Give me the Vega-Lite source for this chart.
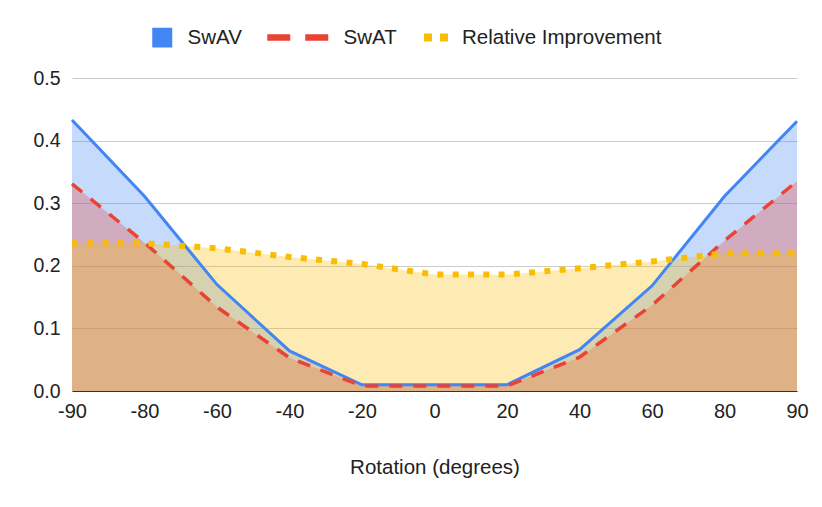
{
  "$schema": "https://vega.github.io/schema/vega-lite/v6.json",
  "width": 725,
  "height": 313,
  "autosize": {"type": "none"},
  "padding": {"left": 72, "top": 78, "right": 25, "bottom": 116},
  "background": "white",
  "view": {"stroke": null},
  "data": {
    "values": [
      {"rotation": -90, "SwAV": 0.433, "SwAT": 0.331, "RI": 0.236},
      {"rotation": -80, "SwAV": 0.311, "SwAT": 0.237, "RI": 0.236},
      {"rotation": -60, "SwAV": 0.170, "SwAT": 0.134, "RI": 0.228},
      {"rotation": -40, "SwAV": 0.064, "SwAT": 0.053, "RI": 0.214},
      {"rotation": -20, "SwAV": 0.010, "SwAT": 0.008, "RI": 0.203},
      {"rotation": 0, "SwAV": 0.010, "SwAT": 0.008, "RI": 0.186},
      {"rotation": 20, "SwAV": 0.010, "SwAT": 0.008, "RI": 0.186},
      {"rotation": 40, "SwAV": 0.066, "SwAT": 0.054, "RI": 0.196},
      {"rotation": 60, "SwAV": 0.168, "SwAT": 0.137, "RI": 0.207},
      {"rotation": 80, "SwAV": 0.311, "SwAT": 0.240, "RI": 0.220},
      {"rotation": 90, "SwAV": 0.431, "SwAT": 0.335, "RI": 0.220}
    ]
  },
  "encoding": {
    "x": {
      "field": "rotation",
      "type": "ordinal",
      "title": "Rotation (degrees)",
      "scale": {"type": "point", "padding": 0},
      "axis": {
        "labelAngle": 0,
        "labelFontSize": 20,
        "labelColor": "#222222",
        "labelPadding": 10,
        "ticks": false,
        "tickSize": 0,
        "domainColor": "#333333",
        "grid": false,
        "titleFontSize": 20.5,
        "titleFontWeight": "normal",
        "titleColor": "#222222",
        "titlePadding": 36,
        "zindex": 1
      }
    }
  },
  "layer": [
    {
      "mark": {"type": "area", "opacity": 0.3},
      "encoding": {
        "y": {
          "field": "SwAV",
          "type": "quantitative",
          "title": null,
          "scale": {"domain": [0, 0.5], "nice": false},
          "axis": {
            "values": [0, 0.1, 0.2, 0.3, 0.4, 0.5],
            "format": ".1f",
            "domain": false,
            "ticks": false,
            "labelPadding": 12,
            "labelFontSize": 19.5,
            "labelColor": "#222222",
            "gridColor": "#cccccc"
          }
        },
        "fill": {
          "datum": "SwAV",
          "type": "nominal",
          "scale": {"range": ["#4285F4"]},
          "legend": {
            "title": null,
            "orient": "none",
            "legendX": 80,
            "legendY": -50.5,
            "symbolType": "square",
            "symbolSize": 400,
            "symbolOpacity": 1,
            "symbolStrokeWidth": 0,
            "labelFontSize": 20.5,
            "labelColor": "#222222",
            "labelOffset": 15,
            "clipHeight": 20,
            "encode": {"symbols": {"update": {"opacity": {"value": 1}, "fillOpacity": {"value": 1}}}}
          }
        }
      }
    },
    {
      "mark": {"type": "area", "opacity": 0.3, "color": "#EA4335"},
      "encoding": {"y": {"field": "SwAT", "type": "quantitative", "title": null}}
    },
    {
      "mark": {"type": "area", "opacity": 0.3, "color": "#FBBC04"},
      "encoding": {"y": {"field": "RI", "type": "quantitative", "title": null}}
    },
    {
      "mark": {"type": "line", "color": "#4285F4", "strokeWidth": 3},
      "encoding": {"y": {"field": "SwAV", "type": "quantitative", "title": null}}
    },
    {
      "mark": {"type": "line", "color": "#EA4335", "strokeWidth": 3.5, "strokeDash": [13, 11]},
      "encoding": {
        "y": {"field": "SwAT", "type": "quantitative", "title": null},
        "opacity": {
          "datum": "SwAT",
          "type": "ordinal",
          "scale": {"range": [1, 1]},
          "legend": {
            "title": null,
            "orient": "none",
            "legendX": 191.75,
            "legendY": -50.5,
            "symbolType": "stroke",
            "symbolSize": 3721,
            "symbolStrokeWidth": 6.5,
            "symbolStrokeColor": "#EA4335",
            "symbolDash": [23, 15],
            "labelFontSize": 20.5,
            "labelColor": "#222222",
            "labelOffset": 11.75,
            "clipHeight": 20,
            "encode": {"symbols": {"update": {"stroke": {"value": "#EA4335"}, "strokeDash": {"value": [23, 15]}, "opacity": {"value": 1}}}}
          }
        }
      }
    },
    {
      "mark": {"type": "line", "strokeWidth": 6, "strokeDash": [6, 9.3]},
      "encoding": {
        "y": {"field": "RI", "type": "quantitative", "title": null},
        "stroke": {
          "datum": "Relative Improvement",
          "type": "nominal",
          "scale": {"range": ["#FBBC04"]},
          "legend": {
            "title": null,
            "orient": "none",
            "legendX": 348,
            "legendY": -50.5,
            "symbolType": "stroke",
            "symbolSize": 576,
            "symbolStrokeWidth": 8,
            "labelFontSize": 20.5,
            "labelColor": "#222222",
            "labelOffset": 10,
            "labelLimit": 400,
            "clipHeight": 20,
            "encode": {"symbols": {"update": {"strokeDash": {"value": [8, 8]}, "opacity": {"value": 1}}}}
          }
        }
      }
    }
  ],
  "config": {"font": "Liberation Sans"}
}
